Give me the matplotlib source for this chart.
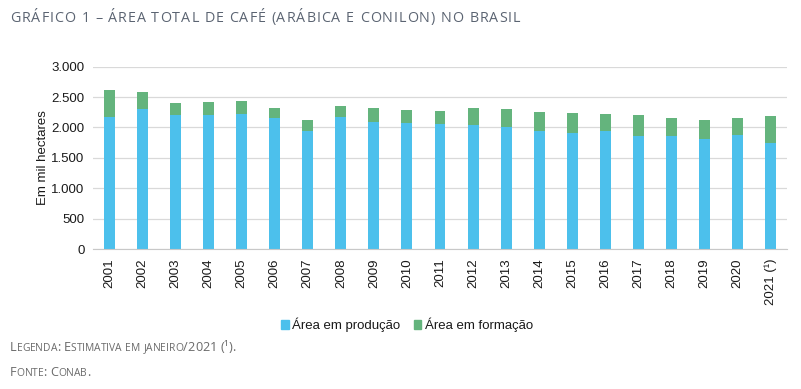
import matplotlib
matplotlib.use('Agg')
import matplotlib.pyplot as plt
from matplotlib.font_manager import FontProperties, findfont, get_font
from matplotlib.patches import Patch

# data (mil hectares)
years = ['2001', '2002', '2003', '2004', '2005', '2006', '2007', '2008', '2009', '2010',
         '2011', '2012', '2013', '2014', '2015', '2016', '2017', '2018', '2019', '2020',
         '2021 (¹)']
producao = [2166, 2303, 2205, 2205, 2216, 2150, 1936, 2166, 2095, 2073,
            2057, 2040, 2007, 1941, 1914, 1941, 1859, 1859, 1804, 1876, 1749]
total = [2610, 2588, 2407, 2413, 2435, 2314, 2128, 2358, 2314, 2292,
         2276, 2325, 2309, 2254, 2243, 2221, 2205, 2155, 2128, 2155, 2188]
formacao = [t - p for t, p in zip(total, producao)]

blue = '#4cc0ec'
green = '#64b47d'
W, H = 801, 389

fig = plt.figure(figsize=(W / 100, H / 100), dpi=100)
ax = fig.add_axes([93 / W, (H - 249) / H, (787 - 93) / W, (249 - 66.7) / H])

x = range(len(years))
ax.bar(x, producao, width=0.33, color=blue, zorder=2)
ax.bar(x, formacao, width=0.33, bottom=producao, color=green, zorder=2)

ax.set_ylim(0, 3000)
ax.set_xlim(-0.5, len(years) - 0.5)
ax.set_yticks(range(0, 3001, 500))
ax.set_yticklabels([f'{v:,}'.replace(',', '.') for v in range(0, 3001, 500)])
ax.set_xticks(list(x))
ax.set_xticklabels(years, rotation=90)
ax.tick_params(length=0, labelsize=9.5, colors='#1a1a1a', pad=6)
ax.tick_params(axis='x', pad=7)
for lab in ax.get_xticklabels() + ax.get_yticklabels():
    lab.set_fontfamily('Liberation Sans')
ax.grid(axis='y', color='#d9d9d9', lw=0.9, zorder=0)
for s in ['top', 'right', 'left']:
    ax.spines[s].set_visible(False)
ax.spines['bottom'].set_color('#c8c8c8')
ax.set_ylabel('Em mil hectares', fontsize=9.5, family='Liberation Sans', color='#1a1a1a')
ax.yaxis.set_label_coords(-44 / (787 - 93), 0.5)

handles = [Patch(color=blue, label='Área em produção'),
           Patch(color=green, label='Área em formação')]
fig.legend(handles=handles, loc='center', bbox_to_anchor=(0.508, 1 - 325 / H), ncol=2,
           frameon=False, handlelength=0.6, handleheight=0.6, handletextpad=0.25,
           columnspacing=1.0, prop=FontProperties(family='Liberation Sans', size=9.5),
           labelcolor='#1a1a1a')


def advance(ch, fp):
    font = get_font(findfont(fp))
    font.set_size(fp.get_size_in_points(), 100)
    g = font.load_char(ord(ch))
    return g.linearHoriAdvance / 65536


def spaced_text(text, x0, y0, size, color, track=0.0, smallcaps=False, small=None):
    # draw text char by char (pixel coords), optional tracking and small caps
    xpos = x0
    for ch in text:
        if smallcaps and ch.islower():
            s, sz = ch.upper(), small
        else:
            s, sz = ch, size
        fp = FontProperties(family='Open Sans', size=sz)
        if s != ' ':
            fig.text(xpos / W, 1 - y0 / H, s, fontproperties=fp, color=color,
                     va='baseline', ha='left')
        xpos += advance(s, fp) + track


spaced_text('GRÁFICO 1 – ÁREA TOTAL DE CAFÉ (ARÁBICA E CONILON) NO BRASIL',
            10, 22, 10.3, '#5b6472', track=1.0)
spaced_text('Legenda: Estimativa em janeiro/2021 (¹).', 10, 351, 9.2, '#6a6a6a',
            smallcaps=True, small=7.4, track=0.0)
spaced_text('Fonte: Conab.', 10, 376, 9.2, '#6a6a6a',
            smallcaps=True, small=7.4, track=0.0)

fig.savefig('out.png', dpi=100)
